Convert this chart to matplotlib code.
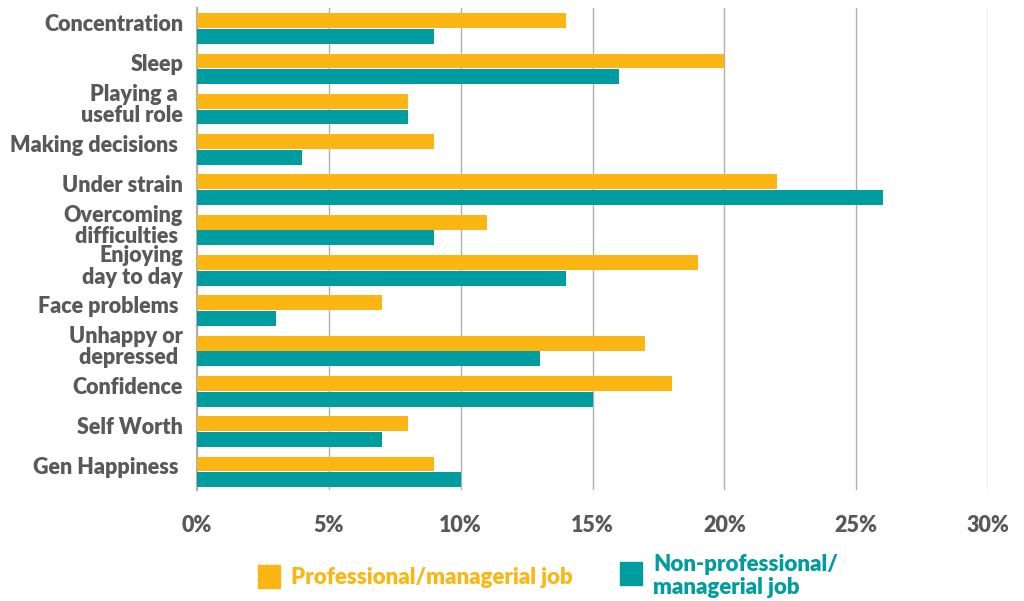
import matplotlib.pyplot as plt
import matplotlib.patches as mpatches
import matplotlib.transforms as mtransforms
import numpy as np

plt.rcParams['font.family'] = ['Lato', 'DejaVu Sans']

categories = ["Concentration", "Sleep", "Playing a \nuseful role", "Making decisions ",
              "Under strain", "Overcoming\ndifficulties ", "Enjoying\nday to day",
              "Face problems ", "Unhappy or\ndepressed ", "Confidence", "Self Worth",
              "Gen Happiness "]
professional = [14, 20, 8, 9, 22, 11, 19, 7, 17, 18, 8, 9]
non_professional = [9, 16, 8, 4, 26, 9, 14, 3, 13, 15, 7, 10]
xticks = [0, 5, 10, 15, 20, 25, 30]

orange = "#FBB614"
teal = "#009DA0"
gray = "#595959"

fig = plt.figure(figsize=(10.24, 6.01), dpi=100)
ax = fig.add_axes([197/1024, 1-490/601, (988-197)/1024, (490-8)/601])

y = np.arange(len(categories))
h = 0.37
ax.barh(y - h/2 - 0.01, professional, height=h, color=orange, zorder=3)
ax.barh(y + h/2 + 0.01, non_professional, height=h, color=teal, zorder=3)

ax.set_xlim(0, 30)
ax.set_ylim(len(categories) - 0.55, -0.51)
ax.set_xticks(xticks)
ax.set_xticklabels([f"{v}%" for v in xticks])
ax.set_yticks(y)
ax.set_yticklabels(categories, ha='right', linespacing=1.02)
ax.tick_params(axis='both', length=0, colors=gray, labelsize=15.5)
ax.tick_params(axis='x', pad=18)
ax.tick_params(axis='y', pad=10)
for lbl in ax.get_xticklabels() + ax.get_yticklabels():
    lbl.set_fontweight('heavy')
# labels sit a little above the group centres
shift = mtransforms.ScaledTranslation(0, 6/100, fig.dpi_scale_trans)
for lbl in ax.get_yticklabels():
    lbl.set_transform(lbl.get_transform() + shift)

ax.grid(axis='x', color="#B0B0B0", linewidth=1, zorder=0)
for s in ['top', 'right', 'bottom']:
    ax.spines[s].set_visible(False)
ax.spines['left'].set_color("#B0B0B0")
ax.spines['left'].set_linewidth(1.5)

# legend
fig.patches.append(mpatches.Rectangle((258/1024, 1-588/601), 22/1024, 23/601,
                                      transform=fig.transFigure, color=orange))
fig.text(291/1024, 1-578/601, "Professional/managerial job", color=orange,
         fontsize=16, fontweight='heavy', va='center', ha='left')
fig.patches.append(mpatches.Rectangle((620/1024, 1-585/601), 22/1024, 23/601,
                                      transform=fig.transFigure, color=teal))
fig.text(653/1024, 1-576/601, "Non-professional/\nmanagerial job", color=teal,
         fontsize=16, fontweight='heavy', va='center', ha='left', linespacing=1.15)

fig.savefig("out.png", dpi=100)
